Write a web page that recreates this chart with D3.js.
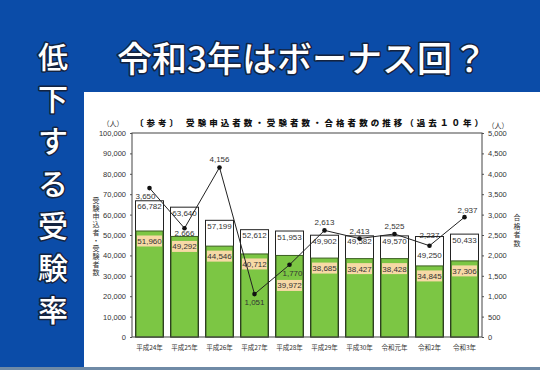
<!DOCTYPE html>
<html lang="ja">
  <head>
    <meta charset="UTF-8" />
    <title>令和3年はボーナス回？</title>
    <script src="https://d3js.org/d3.v7.min.js"></script>
    <style>
      html, body { margin: 0; padding: 0; background: #0b4ca8; }
      svg { display: block; }
      .tick-label { font-family: "Liberation Sans", Arial, sans-serif; font-size: 7.5px; fill: #333; }
      .jp { font-family: "Noto Sans CJK JP", sans-serif; }
      .vert { writing-mode: vertical-rl; text-orientation: upright; }
      .head { font-family: "Noto Sans CJK JP", sans-serif; fill: #fff; stroke: #14233f; stroke-width: 3px; paint-order: stroke; stroke-linejoin: round; }
    </style>
  </head>
  <body>
    <svg width="540" height="370"></svg>
    <script>
      const years = ['平成24年', '平成25年', '平成26年', '平成27年', '平成28年', '平成29年', '平成30年', '令和元年', '令和2年', '令和3年'];
      const applicants = [66782, 63640, 57199, 52612, 51953, 49902, 49582, 49570, 49250, 50433];
      const examinees = [51960, 49292, 44546, 40712, 39972, 38685, 38427, 38428, 34845, 37306];
      const passers = [3650, 2666, 4156, 1051, 1770, 2613, 2413, 2525, 2237, 2937];
      const leftTicks = d3.range(0, 100001, 10000);
      const rightTicks = d3.range(0, 5001, 500);

      const svg = d3.select('svg');
      const fmt = d3.format(',');

      // background pieces
      svg.append('rect').attr('x', 0).attr('y', 0).attr('width', 540).attr('height', 370).attr('fill', '#0b4ca8');
      svg.append('rect').attr('x', 84).attr('y', 92).attr('width', 456).attr('height', 275).attr('fill', '#fff');
      svg.append('rect').attr('x', 0).attr('y', 367).attr('width', 540).attr('height', 3).attr('fill', '#6f8aa6');

      // headings
      svg.append('text').attr('class', 'head')
        .attr('x', 302).attr('y', 72).attr('text-anchor', 'middle')
        .style('font-size', '35px').style('font-weight', 500)
        .text('令和3年はボーナス回？');

      const side = '低下する受験率'.split('');
      svg.selectAll('.side').data(side).enter().append('text')
        .attr('class', 'head side')
        .attr('x', 53).attr('y', (d, i) => 55 + i * 42.2)
        .attr('text-anchor', 'middle').attr('dominant-baseline', 'central')
        .style('font-size', '30px').style('font-weight', 500)
        .text(d => d);

      // chart
      const pL = 132, pR = 482, pT = 133, pB = 337;
      const x = d3.scaleBand().domain(years).range([pL, pR]).paddingInner(0.2).paddingOuter(0.1);
      const y = d3.scaleLinear().domain([0, 100000]).range([pB, pT]);
      const y2 = d3.scaleLinear().domain([0, 5000]).range([pB, pT]);

      svg.append('text').attr('class', 'jp')
        .attr('x', 135).attr('y', 126)
        .attr('textLength', 348).attr('lengthAdjust', 'spacing')
        .style('font-size', '8.5px').style('font-weight', 900).attr('fill', '#111')
        .text('〔参考〕 受験申込者数・受験者数・合格者数の推移（過去１０年）');
      svg.append('text').attr('class', 'jp').attr('x', 113).attr('y', 126).attr('text-anchor', 'middle')
        .style('font-size', '7px').attr('fill', '#333').text('（人）');
      svg.append('text').attr('class', 'jp').attr('x', 498).attr('y', 128).attr('text-anchor', 'middle')
        .style('font-size', '7px').attr('fill', '#333').text('（人）');

      // axis titles (vertical)
      svg.append('text').attr('class', 'jp vert')
        .attr('x', 96).attr('y', 197)
        .style('font-size', '7px').style('letter-spacing', '1px').attr('fill', '#333')
        .text('受験申込者・受験者数');
      svg.append('text').attr('class', 'jp vert')
        .attr('x', 517).attr('y', 214)
        .style('font-size', '7px').style('letter-spacing', '1.5px').attr('fill', '#333')
        .text('合格者数');

      // axes
      const gl = svg.append('g').attr('transform', `translate(${pL},0)`)
        .call(d3.axisLeft(y).tickValues(leftTicks).tickFormat(fmt).tickSize(2).tickPadding(4));
      const gr = svg.append('g').attr('transform', `translate(${pR},0)`)
        .call(d3.axisRight(y2).tickValues(rightTicks).tickFormat(fmt).tickSize(2).tickPadding(4));
      [gl, gr].forEach(g => {
        g.select('.domain').remove();
        g.selectAll('line').attr('stroke', '#555');
        g.selectAll('text').attr('class', 'tick-label');
      });
      const gx = svg.append('g').attr('transform', `translate(0,${pB})`)
        .call(d3.axisBottom(x).tickSize(0).tickPadding(8));
      gx.select('.domain').remove();
      gx.selectAll('text').attr('class', 'jp').style('font-size', '6.5px').attr('fill', '#333');

      // applicants (white boxes)
      svg.selectAll('.app').data(applicants).enter().append('rect')
        .attr('x', (d, i) => x(years[i])).attr('y', d => y(d))
        .attr('width', x.bandwidth()).attr('height', d => pB - y(d))
        .attr('fill', '#fff').attr('stroke', '#222').attr('stroke-width', 1);

      // examinees (green bars); 平成28年 label sits lower, under the line label
      const exOff = i => (i === 4 ? 20 : 0);
      svg.selectAll('.ex').data(examinees).enter().append('rect')
        .attr('x', (d, i) => x(years[i]) + 0.5).attr('y', d => y(d))
        .attr('width', x.bandwidth() - 1).attr('height', d => pB - y(d))
        .attr('fill', '#7cc644').attr('stroke', '#3c5f22').attr('stroke-width', 1);
      svg.selectAll('.exb').data(examinees).enter().append('rect')
        .attr('x', (d, i) => x(years[i]) + 1.5).attr('y', (d, i) => y(d) + 4.5 + exOff(i))
        .attr('width', x.bandwidth() - 3).attr('height', 11)
        .attr('fill', '#f7d9a6');
      svg.selectAll('.exl').data(examinees).enter().append('text')
        .attr('class', 'tick-label')
        .attr('x', (d, i) => x(years[i]) + x.bandwidth() / 2).attr('y', (d, i) => y(d) + 13 + exOff(i))
        .attr('text-anchor', 'middle').style('font-size', '8px').attr('fill', '#b4461c')
        .text(d => fmt(d));

      // plot frame
      svg.append('rect').attr('x', pL).attr('y', pT).attr('width', pR - pL).attr('height', pB - pT)
        .attr('fill', 'none').attr('stroke', '#444').attr('stroke-width', 1);

      // applicant labels (令和2年 sits lower, under the line)
      svg.selectAll('.appl').data(applicants).enter().append('text')
        .attr('class', 'tick-label')
        .attr('x', (d, i) => x(years[i]) + x.bandwidth() / 2).attr('y', (d, i) => y(d) + (i === 8 ? 21 : 8.5))
        .attr('text-anchor', 'middle').style('font-size', '8px').attr('fill', '#222')
        .text(d => fmt(d));

      // passers line
      const cx = i => x(years[i]) + x.bandwidth() / 2;
      svg.append('path').datum(passers)
        .attr('d', d3.line().x((d, i) => cx(i)).y(d => y2(d)))
        .attr('fill', 'none').attr('stroke', '#222').attr('stroke-width', 1);
      svg.selectAll('.pt').data(passers).enter().append('circle')
        .attr('cx', (d, i) => cx(i)).attr('cy', d => y2(d)).attr('r', 2.3).attr('fill', '#111');
      const dxs = { 0: -4, 4: 3, 9: 3 };
      const dys = { 0: 11, 1: 7.5, 3: 11, 4: 11, 8: -8, 9: -4 };
      svg.selectAll('.pl').data(passers).enter().append('text')
        .attr('class', 'tick-label')
        .attr('x', (d, i) => cx(i) + (dxs[i] || 0))
        .attr('y', (d, i) => y2(d) + (i in dys ? dys[i] : -5))
        .attr('text-anchor', 'middle').style('font-size', '8px')
        .attr('fill', (d, i) => (i === 3 || i === 4 ? '#1f5e12' : '#222'))
        .text(d => fmt(d));
    </script>
  </body>
</html>
